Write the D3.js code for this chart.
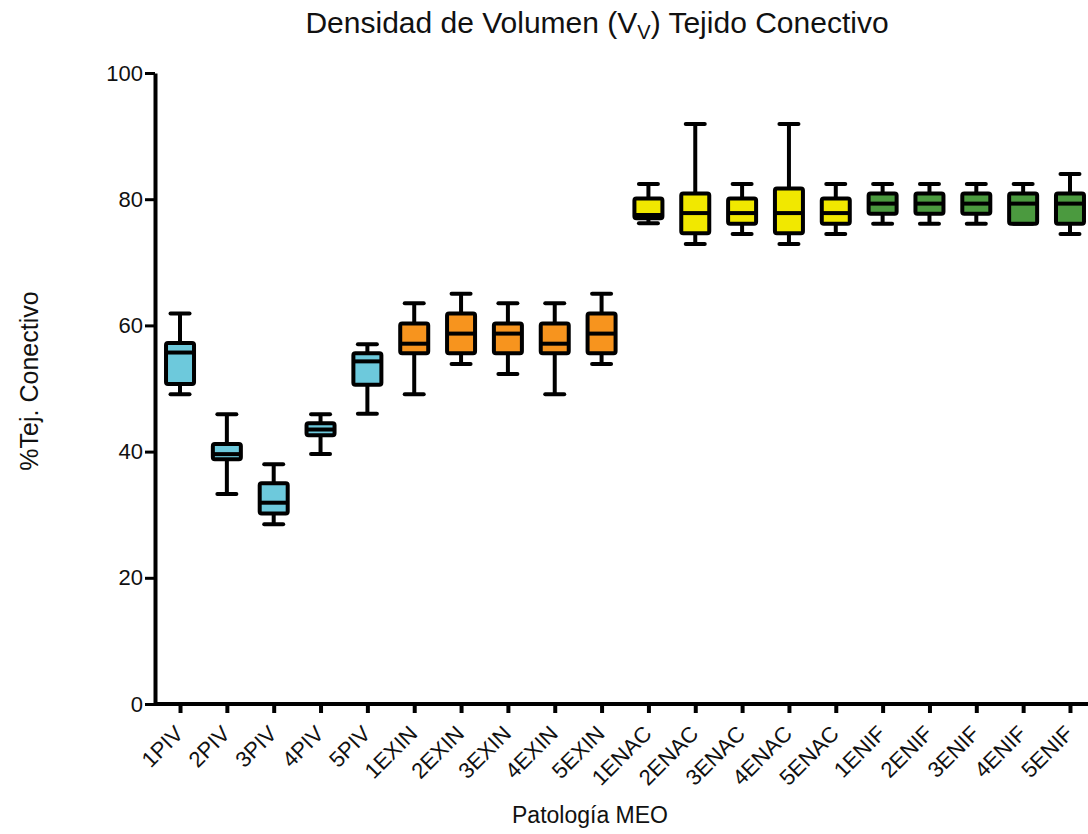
<!DOCTYPE html>
<html>
<head>
<meta charset="utf-8">
<script src="https://cdn.jsdelivr.net/npm/d3@7"></script>
<style>
  body { margin: 0; background: #fff; }
  text { font-family: "Liberation Sans", Arial, sans-serif; fill: #111; }
</style>
</head>
<body>
<div id="chart"></div>
<script>
var categories = ["1PIV","2PIV","3PIV","4PIV","5PIV","1EXIN","2EXIN","3EXIN","4EXIN","5EXIN",
                  "1ENAC","2ENAC","3ENAC","4ENAC","5ENAC","1ENIF","2ENIF","3ENIF","4ENIF","5ENIF"];
var groups = ["PIV","PIV","PIV","PIV","PIV","EXIN","EXIN","EXIN","EXIN","EXIN",
              "ENAC","ENAC","ENAC","ENAC","ENAC","ENIF","ENIF","ENIF","ENIF","ENIF"];
var whiskerLow  = [49.1, 33.3, 28.5, 39.6, 46.0, 49.1, 53.9, 52.3, 49.1, 53.9,
                   76.2, 72.9, 74.5, 72.9, 74.5, 76.1, 76.1, 76.1, 76.1, 74.5];
var q1          = [50.7, 38.8, 30.2, 42.6, 50.6, 55.6, 55.6, 55.6, 55.6, 55.6,
                   77.0, 74.6, 76.1, 74.6, 76.1, 77.7, 77.7, 77.7, 76.1, 76.1];
var median      = [55.7, 39.6, 31.9, 43.5, 54.3, 57.1, 58.7, 58.7, 57.1, 58.7,
                   77.5, 77.8, 77.8, 77.8, 77.8, 79.3, 79.3, 79.3, 79.3, 79.3];
var q3          = [57.2, 41.2, 35.0, 44.5, 55.6, 60.3, 61.9, 60.3, 60.3, 61.9,
                   80.1, 80.9, 80.1, 81.7, 80.1, 80.9, 80.9, 80.9, 80.9, 80.9];
var whiskerHigh = [61.9, 45.9, 38.0, 45.9, 57.0, 63.5, 65.0, 63.5, 63.5, 65.0,
                   82.4, 91.9, 82.4, 91.9, 82.4, 82.4, 82.4, 82.4, 82.4, 84.0];
var yTicks = [0, 20, 40, 60, 80, 100];
var groupColors = { PIV: "#6dc9dc", EXIN: "#f7941e", ENAC: "#f1e800", ENIF: "#4b9a3f" };

var W = 1088, H = 834;
var svg = d3.select("#chart").append("svg")
  .attr("width", W).attr("height", H);

var data = categories.map(function(c, i) {
  return { name: c, group: groups[i], lo: whiskerLow[i], q1: q1[i], med: median[i], q3: q3[i], hi: whiskerHigh[i] };
});

var x = d3.scalePoint().domain(categories).range([156.6, 1093.4]).padding(0.5);
var y = d3.scaleLinear().domain([0, 100]).range([704, 73]);

// Y axis
var yAxis = svg.append("g")
  .attr("transform", "translate(155,0)")
  .call(d3.axisLeft(y).tickValues(yTicks).tickSize(10).tickPadding(2).tickSizeOuter(0));
yAxis.select(".domain").attr("stroke", "#000").attr("stroke-width", 4);
yAxis.selectAll(".tick line").attr("stroke", "#000").attr("stroke-width", 3);
yAxis.selectAll("text").style("font-size", "22px").attr("fill", "#111");

// X axis
var xAxis = svg.append("g")
  .attr("transform", "translate(0,704)")
  .call(d3.axisBottom(x).tickSize(9).tickSizeOuter(0));
xAxis.select(".domain").attr("stroke", "#000").attr("stroke-width", 4).attr("d", "M155,0H1088");
xAxis.selectAll(".tick line").attr("stroke", "#000").attr("stroke-width", 4);
xAxis.selectAll("text")
  .style("font-size", "22px")
  .attr("fill", "#111")
  .style("text-anchor", "end")
  .attr("dy", "0")
  .attr("y", 0)
  .attr("transform", "translate(4,31) rotate(-45)");

// Boxes
var boxW = 28, capW = 19;
var b = svg.selectAll(".box").data(data).enter().append("g").attr("class", "box");

b.append("line")
  .attr("x1", function(d) { return x(d.name); })
  .attr("x2", function(d) { return x(d.name); })
  .attr("y1", function(d) { return y(d.hi); })
  .attr("y2", function(d) { return y(d.lo); })
  .attr("stroke", "#000").attr("stroke-width", 4);
b.append("line")
  .attr("x1", function(d) { return x(d.name) - capW / 2; })
  .attr("x2", function(d) { return x(d.name) + capW / 2; })
  .attr("y1", function(d) { return y(d.hi); })
  .attr("y2", function(d) { return y(d.hi); })
  .attr("stroke", "#000").attr("stroke-width", 4).attr("stroke-linecap", "round");
b.append("line")
  .attr("x1", function(d) { return x(d.name) - capW / 2; })
  .attr("x2", function(d) { return x(d.name) + capW / 2; })
  .attr("y1", function(d) { return y(d.lo); })
  .attr("y2", function(d) { return y(d.lo); })
  .attr("stroke", "#000").attr("stroke-width", 4).attr("stroke-linecap", "round");
b.append("rect")
  .attr("x", function(d) { return x(d.name) - boxW / 2; })
  .attr("width", boxW)
  .attr("y", function(d) { return y(d.q3); })
  .attr("height", function(d) { return y(d.q1) - y(d.q3); })
  .attr("rx", 2)
  .attr("fill", function(d) { return groupColors[d.group]; })
  .attr("stroke", "#000").attr("stroke-width", 4).attr("stroke-linejoin", "round");
b.append("line")
  .attr("x1", function(d) { return x(d.name) - boxW / 2; })
  .attr("x2", function(d) { return x(d.name) + boxW / 2; })
  .attr("y1", function(d) { return y(d.med); })
  .attr("y2", function(d) { return y(d.med); })
  .attr("stroke", "#000").attr("stroke-width", 4);

// Titles
var title = svg.append("text")
  .attr("x", 597).attr("y", 33)
  .attr("text-anchor", "middle")
  .style("font-size", "30px");
title.append("tspan").text("Densidad de Volumen (V");
title.append("tspan").attr("dy", 6).style("font-size", "20px").text("V");
title.append("tspan").attr("dy", -6).text(") Tejido Conectivo");

svg.append("text")
  .attr("transform", "translate(38,381) rotate(-90)")
  .attr("text-anchor", "middle")
  .style("font-size", "25px")
  .text("%Tej. Conectivo");

svg.append("text")
  .attr("x", 590).attr("y", 823)
  .attr("text-anchor", "middle")
  .style("font-size", "23px")
  .text("Patología MEO");
</script>
</body>
</html>
